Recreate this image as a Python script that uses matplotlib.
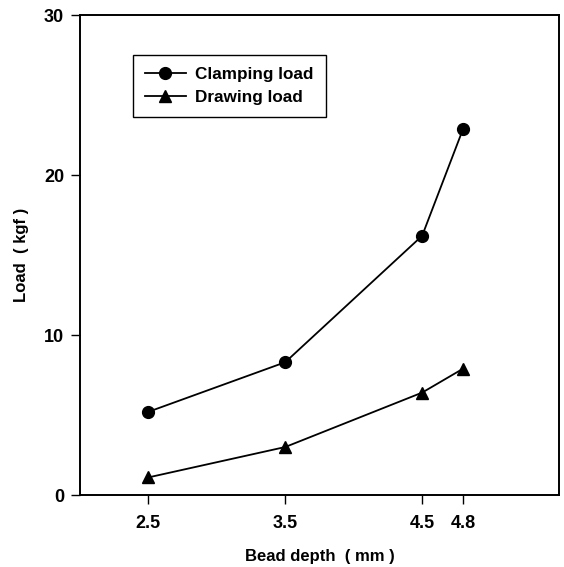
import matplotlib
matplotlib.use("Agg")
import matplotlib.pyplot as plt

bead_depth = [2.5, 3.5, 4.5, 4.8]
clamping_load = [5.2, 8.3, 16.2, 22.9]
drawing_load = [1.1, 3.0, 6.4, 7.9]
x_ticks = [2.5, 3.5, 4.5, 4.8]
x_tick_labels = ["2.5", "3.5", "4.5", "4.8"]
y_ticks = [0, 10, 20, 30]

plt.rcParams['font.family'] = ['Liberation Sans', 'DejaVu Sans']

fig = plt.figure(figsize=(5.64, 5.67), dpi=100)
ax = fig.add_axes([80/564, 72/567, 479/564, 480/567])

ax.plot(bead_depth, clamping_load, color='black', lw=1.3, marker='o', ms=8.5,
        label='Clamping load')
ax.plot(bead_depth, drawing_load, color='black', lw=1.3, marker='^', ms=8.5,
        label='Drawing load')

ax.set_xlim(2.0, 5.5)
ax.set_ylim(0, 30)
ax.set_xticks(x_ticks)
ax.set_xticklabels(x_tick_labels)
ax.set_yticks(y_ticks)
for s in ax.spines.values():
    s.set_linewidth(1.4)
ax.tick_params(direction='out', length=6.5, width=1.0, labelsize=13)
ax.tick_params(axis='x', pad=8)
ax.tick_params(axis='y', pad=5)
for lab in ax.get_xticklabels() + ax.get_yticklabels():
    lab.set_fontweight('bold')

ax.set_xlabel('Bead depth  ( mm )', fontsize=12, fontweight='bold', labelpad=12)
ax.set_ylabel('Load  ( kgf )', fontsize=12, fontweight='bold', labelpad=11)

leg = ax.legend(loc='upper left', bbox_to_anchor=(0.1106, 0.9167), borderaxespad=0,
                fancybox=False, edgecolor='black', framealpha=1,
                prop={'size': 12.3, 'weight': 'bold'}, handlelength=2.4,
                handletextpad=0.55, borderpad=0.7, labelspacing=0.45)
leg.get_frame().set_linewidth(1.0)

fig.savefig('out.png', dpi=100)
